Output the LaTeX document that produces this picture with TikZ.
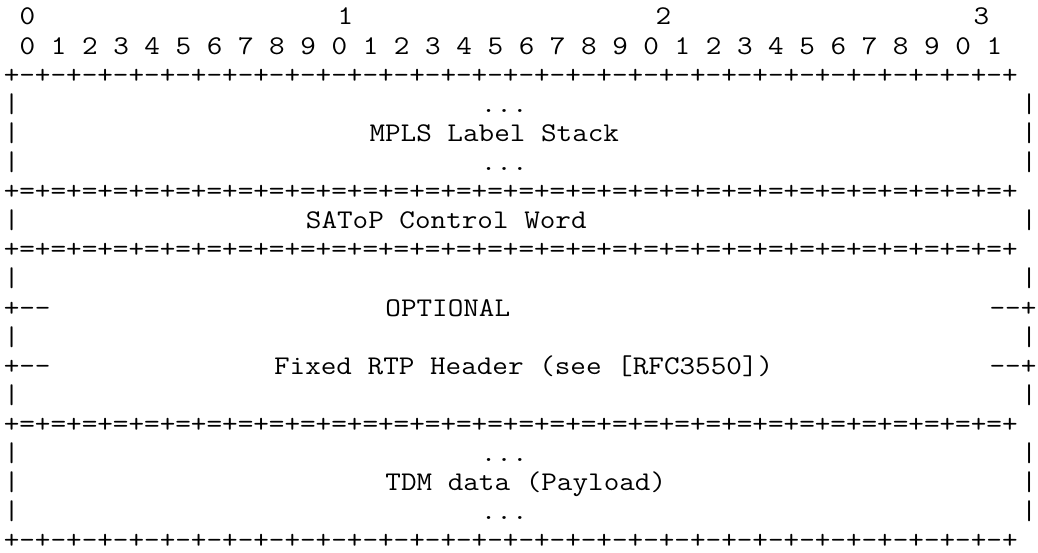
\documentclass[tikz,border=0pt]{standalone}
\usepackage{fontspec}
\usepackage{graphicx}
\tikzset{mono/.style={anchor=base west, inner sep=0pt, outer sep=0pt, text=black, font=\fontsize{27}{29}\ttfamily}}
\newcommand\msx{1.1217}
\ExplSyntaxOn
\NewDocumentCommand\myrep{mm}{\prg_replicate:nn{#1}{#2}}
\ExplSyntaxOff
\newcommand\dashrule{\myrep{32}{+-}+}
\newcommand\eqrule{\myrep{32}{+=}+}
\newcommand\seg[5][]{\node[mono,#1] (#2) at ({3.8+15.9*#3},{25.0+29.1*(#4-1)}) {\scalebox{\msx}[1]{#5}};}
\begin{document}
\begin{tikzpicture}[x=1pt,y=-1pt]
\useasboundingbox (0,0) rectangle (1038,553);
% header
\seg{hA}{1}{1}{0}
\seg{hB}{21}{1}{1}
\seg{hC}{41}{1}{2}
\seg{hD}{61}{1}{3}
\seg{bits}{1}{2}{0 1 2 3 4 5 6 7 8 9 0 1 2 3 4 5 6 7 8 9 0 1 2 3 4 5 6 7 8 9 0 1}
% MPLS label stack
\seg{r3}{0}{3}{\dashrule}
\seg{l4}{0}{4}{|}\seg{d4}{30}{4}{...}\seg{e4}{64}{4}{|}
\seg{l5}{0}{5}{|}\seg{mpls}{23}{5}{MPLS Label Stack}\seg{e5}{64}{5}{|}
\seg{l6}{0}{6}{|}\seg{d6}{30}{6}{...}\seg{e6}{64}{6}{|}
% control word
\seg{r7}{0}{7}{\eqrule}
\seg{l8}{0}{8}{|}\seg{cw}{19}{8}{SAToP Control Word}\seg{e8}{64}{8}{|}
\seg{r9}{0}{9}{\eqrule}
% RTP header
\seg{l10}{0}{10}{|}\seg{e10}{64}{10}{|}
\seg{l11}{0}{11}{+-{}-}\seg{opt}{24}{11}{OPTIONAL}\seg{e11}{62}{11}{-{}-+}
\seg{l12}{0}{12}{|}\seg{e12}{64}{12}{|}
\seg{l13}{0}{13}{+-{}-}\seg{rtp}{17}{13}{Fixed RTP Header (see [RFC3550])}\seg{e13}{62}{13}{-{}-+}
\seg{l14}{0}{14}{|}\seg{e14}{64}{14}{|}
% payload
\seg{r15}{0}{15}{\eqrule}
\seg{l16}{0}{16}{|}\seg{d16}{30}{16}{...}\seg{e16}{64}{16}{|}
\seg{l17}{0}{17}{|}\seg{tdm}{24}{17}{TDM data (Payload)}\seg{e17}{64}{17}{|}
\seg{l18}{0}{18}{|}\seg{d18}{30}{18}{...}\seg{e18}{64}{18}{|}
\seg[text depth=0pt]{r19}{0}{19}{\dashrule}
\end{tikzpicture}
\end{document}
